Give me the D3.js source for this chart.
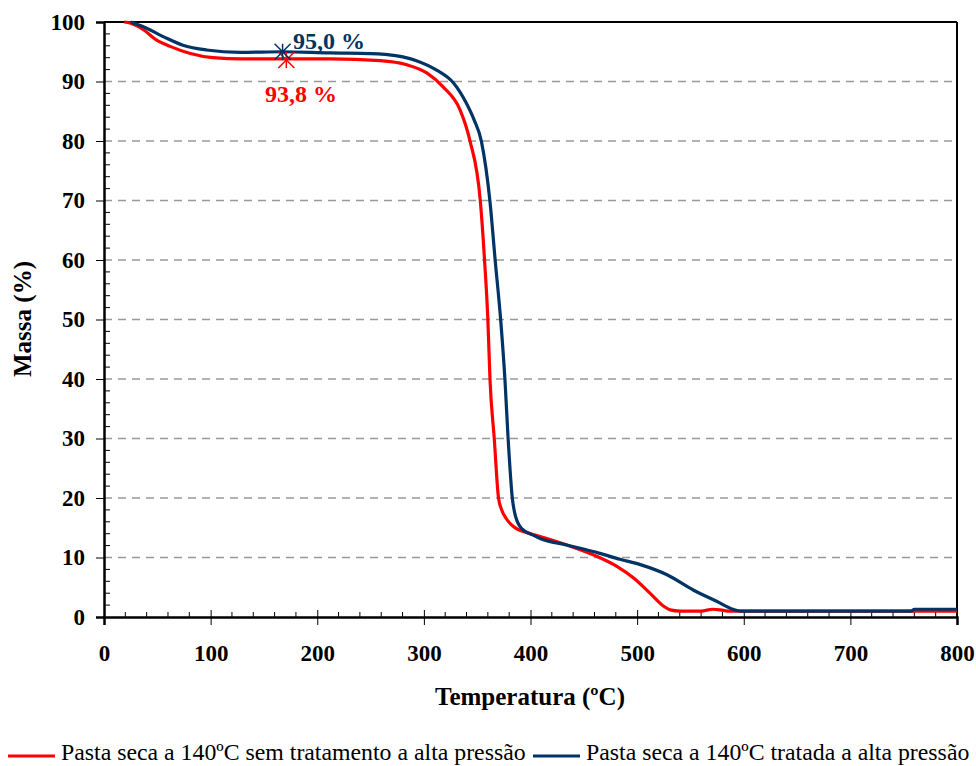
<!DOCTYPE html>
<html>
<head>
<meta charset="utf-8">
<script src="https://cdn.jsdelivr.net/npm/d3@7"></script>
<style>
  body { margin: 0; background: #fff; }
  svg text { font-family: "Liberation Serif", "Times New Roman", serif; }
</style>
</head>
<body>
<main></main>
<script>
// Data
let semTemp = [19, 25, 37, 49, 62, 81, 102, 130, 170, 212, 259, 284, 303, 318, 334, 343, 353, 357, 360, 362, 366, 370, 373, 377, 384, 396, 406, 434, 462, 481, 497, 512, 525, 531, 540, 560, 571, 578, 585, 600, 700, 800];
let semMassa = [100, 99.8, 98.7, 97, 95.9, 94.7, 94.0, 93.8, 93.8, 93.8, 93.5, 92.8, 91.4, 89.1, 85.2, 80.2, 69.8, 59.7, 50, 40, 30, 20, 18, 16.6, 15.2, 14.2, 13.7, 12.1, 10.2, 8.5, 6.5, 4.0, 1.8, 1.2, 1.0, 1.0, 1.3, 1.2, 1.0, 1.0, 1.0, 1.0];

let tratTemp = [25, 37, 56, 74, 96, 128, 167, 212, 250, 275, 293, 312, 328, 340, 347, 354, 362, 367, 372, 376, 379, 383, 386, 392, 402, 409, 434, 465, 484, 503, 528, 553, 575, 590, 597, 700, 757, 760, 800];
let tratMassa = [100, 99.2, 97.5, 96.1, 95.3, 94.9, 95.0, 94.8, 94.7, 94.3, 93.5, 91.9, 89.7, 86.3, 83.6, 79.9, 69.8, 59.7, 50, 40, 30, 19.9, 16.9, 14.8, 13.8, 13.2, 12.1, 10.7, 9.7, 8.8, 7.1, 4.5, 2.6, 1.3, 1.0, 1.0, 1.0, 1.3, 1.3];

let xTicks = [0, 100, 200, 300, 400, 500, 600, 700, 800];
let yTicks = [0, 10, 20, 30, 40, 50, 60, 70, 80, 90, 100];

let seriesNames = ["Pasta seca a 140ºC sem tratamento a alta pressão", "Pasta seca a 140ºC tratada a alta pressão"];
let seriesColors = ["#ff0000", "#003366"];

// marked points
let markTemp = [171, 167.5];
let markMassa = [93.6, 95.0];
let markLabels = ["93,8 %", "95,0 %"];

let width = 976, height = 766;
let plotLeft = 104, plotRight = 957, plotTop = 22, plotBottom = 617;
let serif = '"Liberation Serif", "Times New Roman", serif';

let svg = d3.select('main')
    .append('svg')
    .attr('width', width)
    .attr('height', height);

let x = d3.scaleLinear().domain([0, 800]).range([plotLeft, plotRight]);
let y = d3.scaleLinear().domain([0, 100]).range([plotBottom, plotTop]);

// gridlines
svg.append('g')
    .selectAll('line')
    .data(yTicks.filter(d => d > 0 && d < 100))
    .join('line')
    .attr('x1', plotLeft)
    .attr('x2', plotRight)
    .attr('y1', d => y(d))
    .attr('y2', d => y(d))
    .attr('stroke', '#999')
    .attr('stroke-width', 1.3)
    .attr('stroke-dasharray', '8,6');

// frame top and right
svg.append('line')
    .attr('x1', plotLeft).attr('x2', plotRight)
    .attr('y1', plotTop).attr('y2', plotTop)
    .attr('stroke', 'black').attr('stroke-width', 2);
svg.append('line')
    .attr('x1', plotRight).attr('x2', plotRight)
    .attr('y1', plotTop).attr('y2', plotBottom)
    .attr('stroke', 'black').attr('stroke-width', 2);

// minor ticks
let xMinor = d3.range(0, 801, 20).filter(d => d % 100 !== 0);
svg.append('g')
    .selectAll('line')
    .data(xMinor)
    .join('line')
    .attr('x1', d => x(d)).attr('x2', d => x(d))
    .attr('y1', plotBottom).attr('y2', plotBottom - 5)
    .attr('stroke', 'black').attr('stroke-width', 1);

let yMinor = d3.range(0, 101, 2).filter(d => d % 10 !== 0);
svg.append('g')
    .selectAll('line')
    .data(yMinor)
    .join('line')
    .attr('x1', plotLeft).attr('x2', plotLeft + 6)
    .attr('y1', d => y(d)).attr('y2', d => y(d))
    .attr('stroke', 'black').attr('stroke-width', 1);

// x axis
let xAxis = svg.append('g')
    .attr('transform', `translate(0,${plotBottom})`)
    .call(d3.axisBottom(x).tickValues(xTicks).tickSize(8).tickPadding(20));
xAxis.select('.domain').attr('stroke-width', 2.5);
xAxis.selectAll('.tick line').attr('y1', -7).attr('stroke-width', 1);
xAxis.selectAll('.tick text')
    .style('font-family', serif)
    .attr('font-weight', 'bold')
    .attr('font-size', 23)
    .attr('fill', 'black');

// y axis
let yAxis = svg.append('g')
    .attr('transform', `translate(${plotLeft},0)`)
    .call(d3.axisLeft(y).tickValues(yTicks).tickSize(8).tickPadding(11));
yAxis.select('.domain').attr('stroke-width', 2.5);
yAxis.selectAll('.tick line').attr('stroke-width', 1);
yAxis.selectAll('.tick text')
    .style('font-family', serif)
    .attr('font-weight', 'bold')
    .attr('font-size', 23)
    .attr('fill', 'black');

// axis titles
svg.append('text')
    .attr('x', 530)
    .attr('y', 705)
    .attr('text-anchor', 'middle')
    .style('font-family', serif)
    .attr('font-weight', 'bold')
    .attr('font-size', 25)
    .text('Temperatura (ºC)');

svg.append('text')
    .attr('transform', 'translate(31,319) rotate(-90)')
    .attr('text-anchor', 'middle')
    .style('font-family', serif)
    .attr('font-weight', 'bold')
    .attr('font-size', 25)
    .text('Massa (%)');

// lines
let line = d3.line()
    .curve(d3.curveMonotoneX)
    .x(d => x(d[0]))
    .y(d => y(d[1]));

let semData = semTemp.map((t, i) => [t, semMassa[i]]);
let tratData = tratTemp.map((t, i) => [t, tratMassa[i]]);

svg.append('path')
    .datum(semData)
    .attr('d', line)
    .attr('fill', 'none')
    .attr('stroke', seriesColors[0])
    .attr('stroke-width', 3.2)
    .attr('stroke-linejoin', 'round');

svg.append('path')
    .datum(tratData)
    .attr('d', line)
    .attr('fill', 'none')
    .attr('stroke', seriesColors[1])
    .attr('stroke-width', 3.2)
    .attr('stroke-linejoin', 'round');

// asterisk markers
function asterisk(cx, cy, r, color) {
    let g = svg.append('g').attr('stroke', color).attr('stroke-width', 1.5);
    g.append('line').attr('x1', cx).attr('x2', cx).attr('y1', cy - r).attr('y2', cy + r);
    g.append('line').attr('x1', cx - r).attr('x2', cx + r).attr('y1', cy - r).attr('y2', cy + r);
    g.append('line').attr('x1', cx - r).attr('x2', cx + r).attr('y1', cy + r).attr('y2', cy - r);
}
asterisk(x(markTemp[0]), y(markMassa[0]), 8, seriesColors[0]);
asterisk(x(markTemp[1]), y(markMassa[1]), 8, seriesColors[1]);

svg.append('text')
    .attr('x', 265)
    .attr('y', 102)
    .style('font-family', serif)
    .attr('font-weight', 'bold')
    .attr('font-size', 24)
    .attr('fill', seriesColors[0])
    .text(markLabels[0]);

svg.append('text')
    .attr('x', 293)
    .attr('y', 49)
    .style('font-family', serif)
    .attr('font-weight', 'bold')
    .attr('font-size', 24)
    .attr('fill', seriesColors[1])
    .text(markLabels[1]);

// legend
let legX = [8, 533];
let legY = 756;
seriesNames.forEach((name, i) => {
    svg.append('line')
        .attr('x1', legX[i]).attr('x2', legX[i] + 47)
        .attr('y1', legY).attr('y2', legY)
        .attr('stroke', seriesColors[i])
        .attr('stroke-width', 3.2);
    svg.append('text')
        .attr('x', legX[i] + 53)
        .attr('y', 760)
        .style('font-family', serif)
        .attr('font-size', 23.8)
        .attr('fill', 'black')
        .text(name);
});
</script>
</body>
</html>
